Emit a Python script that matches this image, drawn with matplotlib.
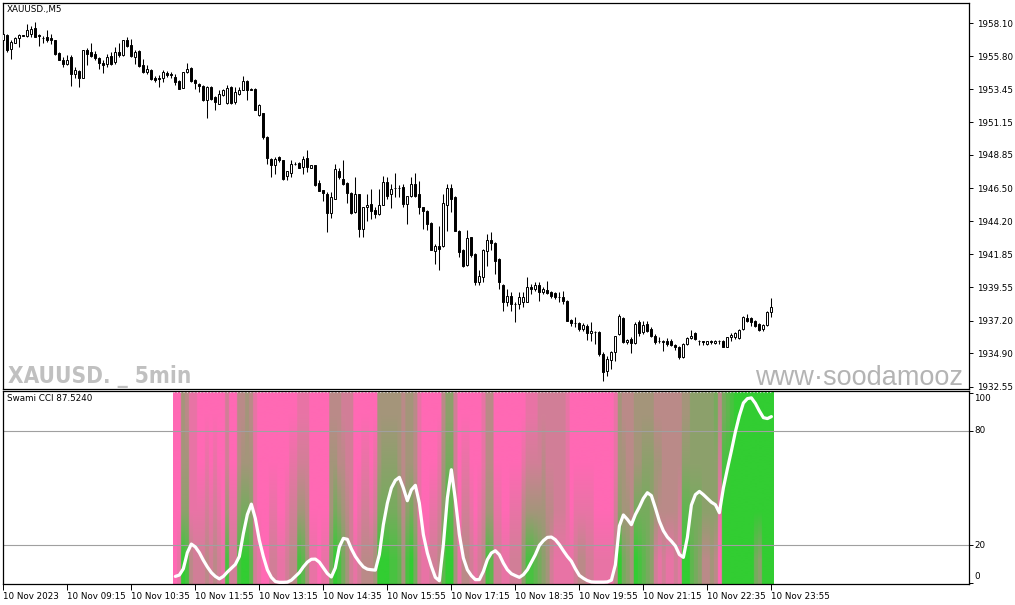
import numpy as np
import matplotlib
matplotlib.use("Agg")
import matplotlib.pyplot as plt
from matplotlib.colors import LinearSegmentedColormap
from matplotlib import font_manager
from matplotlib.font_manager import FontProperties

# ---------------- data ----------------
opens = [1956.95,1957.26,1956.32,1956.72,1957.07,1957.26,1957.19,1957.37,1957.80,1957.30,
         1957.09,1957.14,1957.09,1956.90,1956.00,1955.50,1955.26,1955.73,1954.56,1954.75,
         1954.28,1956.25,1956.08,1955.92,1955.69,1955.31,1955.26,1955.78,1955.38,1956.08,
         1955.90,1956.95,1956.55,1955.73,1956.15,1955.15,1954.68,1954.84,1954.28,1954.23,
         1954.28,1954.61,1954.52,1954.32,1954.04,1953.57,1954.68,1954.93,1954.09,1953.86,
         1953.67,1952.73,1953.62,1952.92,1952.45,1953.03,1952.50,1953.62,1952.57,1953.15,
         1953.43,1954.02,1953.50,1953.50,1951.63,1951.77,1950.08,1948.58,1948.15,1948.69,
         1948.46,1947.36,1947.57,1948.24,1948.27,1947.99,1948.60,1947.94,1948.11,1946.86,
         1946.35,1946.07,1944.75,1945.76,1947.75,1947.17,1946.86,1946.16,1944.82,1946.07,
         1943.65,1945.17,1945.41,1944.99,1944.66,1945.36,1946.93,1946.11,1946.55,1946.53,
         1946.58,1945.41,1945.93,1946.82,1946.07,1945.17,1944.89,1944.05,1942.08,1942.41,
         1942.41,1945.36,1946.54,1945.88,1943.53,1942.17,1941.14,1943.06,1941.89,1939.90,
         1940.25,1942.08,1942.88,1942.69,1941.54,1939.73,1938.49,1938.96,1938.39,1938.37,
         1938.49,1938.49,1939.59,1939.43,1939.73,1939.19,1939.36,1939.19,1939.12,1938.85,
         1938.84,1938.60,1937.24,1937.02,1937.01,1936.61,1936.85,1936.31,1936.39,1936.38,
         1934.85,1933.68,1934.43,1934.97,1936.26,1937.39,1935.67,1935.91,1935.60,1937.08,
         1936.38,1936.96,1936.61,1936.14,1935.75,1935.67,1935.79,1935.79,1935.51,1935.37,
         1934.62,1935.56,1935.98,1936.31,1935.75,1935.73,1935.56,1935.74,1935.60,1935.75,
         1935.79,1935.37,1936.02,1936.07,1935.98,1936.61,1937.39,1937.39,1937.20,1936.96,
         1936.61,1936.92,1937.78]
highs = [1957.42,1957.37,1956.90,1957.14,1957.37,1957.30,1958.03,1957.89,1958.17,1957.37,
         1957.19,1957.66,1957.37,1956.95,1956.08,1955.73,1955.85,1955.85,1955.03,1954.79,
         1956.25,1956.36,1956.72,1956.15,1955.73,1955.50,1955.97,1956.08,1956.44,1956.72,
         1956.95,1957.14,1956.97,1956.20,1956.25,1955.62,1955.15,1954.91,1954.37,1954.44,
         1954.79,1954.75,1954.68,1954.51,1954.09,1954.70,1955.31,1955.00,1954.18,1953.90,
         1953.74,1953.67,1953.67,1952.96,1953.39,1953.50,1953.74,1953.67,1953.62,1953.62,
         1954.37,1954.09,1953.52,1953.55,1952.40,1951.80,1950.15,1948.60,1948.69,1948.74,
         1948.50,1947.75,1948.51,1948.34,1948.34,1948.74,1949.16,1948.15,1948.15,1947.10,
         1946.40,1946.23,1946.23,1948.22,1947.94,1948.51,1946.93,1946.23,1947.29,1946.11,
         1945.22,1946.07,1946.46,1945.17,1946.46,1947.40,1947.29,1946.82,1947.57,1946.70,
         1946.82,1945.99,1947.29,1947.57,1947.00,1945.22,1944.99,1944.10,1942.59,1943.88,
         1946.07,1946.82,1946.82,1945.95,1943.55,1942.20,1943.58,1943.11,1941.95,1940.76,
         1942.20,1943.30,1943.42,1942.75,1941.60,1939.78,1939.43,1939.19,1938.49,1939.19,
         1939.19,1940.29,1939.78,1939.90,1939.90,1939.54,1939.97,1939.26,1939.19,1939.19,
         1939.31,1938.65,1937.31,1937.43,1937.08,1937.01,1936.96,1937.08,1936.45,1936.49,
         1934.97,1934.73,1935.09,1936.14,1937.67,1937.48,1935.91,1936.07,1937.08,1937.24,
         1937.20,1937.20,1936.73,1936.26,1936.07,1935.84,1935.98,1935.91,1935.56,1935.44,
         1935.60,1936.07,1936.54,1936.38,1935.84,1935.79,1935.79,1935.84,1935.84,1935.84,
         1935.84,1936.07,1936.31,1936.38,1936.61,1937.55,1937.67,1937.48,1937.24,1937.01,
         1936.96,1937.85,1938.79]
lows =  [1956.95,1956.08,1955.62,1956.72,1956.44,1957.19,1957.14,1957.14,1957.14,1956.48,
         1956.72,1956.79,1956.67,1955.90,1955.50,1955.03,1955.15,1953.67,1954.28,1953.62,
         1954.28,1955.15,1955.73,1955.50,1954.91,1954.61,1955.03,1955.15,1955.26,1955.73,
         1955.78,1956.44,1955.73,1955.26,1955.03,1954.61,1954.56,1954.15,1953.97,1953.62,
         1953.97,1954.32,1954.28,1953.74,1953.45,1953.55,1954.61,1953.97,1953.50,1953.27,
         1952.65,1951.46,1952.68,1951.98,1952.40,1952.96,1952.45,1952.45,1952.45,1953.03,
         1953.39,1952.73,1953.40,1951.98,1951.55,1950.00,1948.22,1947.29,1947.52,1948.35,
         1947.10,1947.10,1947.33,1948.11,1947.94,1947.52,1947.64,1947.90,1946.65,1946.28,
         1945.60,1943.42,1944.42,1945.76,1947.17,1946.70,1945.46,1944.71,1944.75,1943.11,
         1943.06,1944.19,1944.35,1944.42,1944.59,1945.30,1945.76,1945.13,1945.88,1945.88,
         1945.17,1944.00,1945.88,1945.88,1944.71,1943.65,1943.58,1942.15,1941.19,1940.76,
         1942.36,1943.53,1944.82,1943.50,1941.70,1941.00,1941.07,1941.66,1939.73,1939.73,
         1939.90,1941.07,1942.13,1940.48,1939.43,1937.90,1938.25,1937.90,1937.08,1938.02,
         1938.14,1938.49,1939.07,1939.31,1938.60,1939.07,1939.07,1938.79,1938.72,1938.49,
         1938.37,1937.15,1936.85,1936.73,1936.49,1936.49,1935.84,1935.79,1935.56,1934.73,
         1932.98,1933.33,1933.80,1934.38,1936.21,1935.60,1935.56,1934.90,1935.56,1936.14,
         1936.26,1936.38,1936.02,1935.56,1935.60,1935.04,1935.44,1935.44,1935.13,1934.50,
         1934.57,1935.51,1935.91,1935.84,1935.51,1935.51,1935.51,1935.56,1935.56,1935.56,
         1935.32,1935.32,1935.74,1935.91,1935.91,1936.54,1937.08,1936.85,1936.73,1936.45,
         1936.49,1936.85,1937.43]
closes = [1957.37,1956.25,1956.79,1957.09,1957.30,1957.24,1957.66,1957.73,1957.14,1957.21,
          1957.07,1956.95,1956.90,1955.97,1955.54,1955.22,1955.54,1954.56,1954.79,1954.28,
          1956.25,1955.97,1955.78,1955.69,1955.31,1955.15,1955.73,1955.26,1956.08,1955.85,
          1956.95,1956.48,1955.78,1956.08,1955.08,1954.68,1954.91,1954.18,1954.09,1954.21,
          1954.68,1954.44,1954.50,1953.97,1953.50,1954.68,1954.91,1954.02,1953.90,1953.67,
          1952.68,1953.62,1952.78,1952.57,1953.15,1953.43,1953.57,1952.50,1953.27,1953.39,
          1954.02,1953.39,1953.43,1952.03,1952.33,1950.08,1948.60,1948.11,1948.58,1948.46,
          1947.17,1947.71,1948.18,1948.22,1947.94,1948.58,1947.99,1948.11,1946.70,1946.30,
          1946.16,1944.75,1945.88,1947.87,1947.29,1946.82,1946.16,1944.75,1946.07,1943.65,
          1945.17,1945.36,1944.89,1944.66,1945.36,1946.93,1945.99,1946.46,1946.53,1946.55,
          1945.41,1945.93,1946.82,1945.93,1945.22,1944.89,1944.00,1942.17,1942.41,1942.24,
          1945.46,1946.54,1945.76,1943.53,1942.01,1941.07,1943.02,1941.84,1939.90,1940.30,
          1942.13,1942.88,1942.64,1941.38,1939.90,1938.49,1938.96,1938.37,1938.37,1938.84,
          1938.89,1939.59,1939.43,1939.73,1939.19,1939.43,1939.12,1938.96,1938.84,1938.83,
          1938.56,1937.20,1937.01,1937.00,1936.61,1936.92,1936.31,1936.49,1936.37,1934.85,
          1933.56,1934.50,1934.97,1936.14,1937.55,1935.67,1935.84,1935.60,1936.96,1936.31,
          1936.92,1936.49,1936.14,1935.67,1935.73,1935.79,1935.56,1935.51,1935.32,1934.62,
          1935.56,1935.98,1936.14,1935.91,1935.73,1935.71,1935.74,1935.72,1935.74,1935.73,
          1935.37,1936.02,1936.21,1936.31,1936.54,1937.48,1937.20,1937.08,1936.85,1936.54,
          1936.92,1937.78,1938.18]

price_ticks = [1958.10, 1955.80, 1953.45, 1951.15, 1948.85, 1946.50,
               1944.20, 1941.85, 1939.55, 1937.20, 1934.90, 1932.55]
time_labels = ["10 Nov 2023", "10 Nov 09:15", "10 Nov 10:35", "10 Nov 11:55",
               "10 Nov 13:15", "10 Nov 14:35", "10 Nov 15:55", "10 Nov 17:15",
               "10 Nov 18:35", "10 Nov 19:55", "10 Nov 21:15", "10 Nov 22:35",
               "10 Nov 23:55"]
time_label_bars = [0, 16, 32, 48, 64, 80, 96, 112, 128, 144, 160, 176, 192]

# Swami CCI (bars 43..192)
swami_first_bar = 43
swami_line = [3.5,4.2,7.5,16,20.5,19,16,12,8.5,5.5,
              3.5,2.2,3.5,5.8,7.8,9.8,14,26,36,41.5,
              34,22.5,14,7,3,0.8,0.4,0.4,0.5,1.5,
              3.5,5.5,8.5,11,12.5,12.6,11,8,5,3.2,
              8,19,23.5,23,18,14,11,8.5,7.3,7.0,
              6.8,15,30.7,42,50,54,55.6,50,43.3,49,
              51.4,42,25.5,15.8,8.8,3,1.2,20.2,44.7,59.6,
              43.9,25.5,13.2,7.0,3.9,1.8,1.8,6.1,12.3,15.8,
              17,14.9,10.5,7.0,4.9,3.9,3.0,4.4,7,11,
              14.9,19.8,22.3,24,24.2,22.8,20.2,17,14,11.5,
              7.5,4,2.5,1.3,0.6,0.5,0.5,0.5,0.6,1.5,
              9.6,30,35.8,33.5,30.7,36,40,44.5,47.5,46,
              39.5,32.5,27.5,24.2,22,19.5,15,13.5,24,41,
              46.5,48.2,46.5,44.5,42.5,41.2,37,50,60,69.5,
              79.5,88,94.7,97,97.4,94.5,90.5,87,86.5,87.524]
# green share (0 = all pink, 9 = all green) of the heat map, four period bands
heat_bottom = ("0198322232" "3218228997" "2100221123" "3874110116" "9864212333"
               "4999887489" "6211223799" "4133212387" "2211222588" "7654211111"
               "2332211111" "3965498765" "2121121997" "6533430999" "9999965999")
heat_lower  = ("0055111121" "2104115665" "1000110012" "2443000004" "6543201221"
               "2666665356" "4100112587" "3022101244" "1100111344" "4443322210"
               "1111100000" "2544366665" "4333332776" "6655551999" "9999999999")
heat_upper  = ("0044110010" "1002003444" "1000000001" "1222000004" "4332200110"
               "1455554344" "3100001466" "2011000133" "0000000122" "2232222210"
               "0000000000" "1443344555" "4433333555" "5555552889" "9999999999")
heat_top    = ("0043110000" "0002003343" "1000000000" "0111000003" "3322200000"
               "0444444344" "3100000355" "2000000133" "0000000011" "1222222210"
               "0000000000" "1433344444" "3333333445" "5555563678" "9999999999")

# ---------------- figure ----------------
W, H = 1015, 605
fig = plt.figure(figsize=(W / 100, H / 100), dpi=100)
fig.patch.set_facecolor("white")

def box(l, t, r, b):
    return [l / W, 1 - b / H, (r - l) / W, (b - t) / H]

ax = fig.add_axes(box(3, 3, 969, 389))
ax2 = fig.add_axes(box(3, 391, 969, 584))
XMIN, XMAX = -0.08, 241.4
small = 6.3
txtfont = "DejaVu Sans"

for a in (ax, ax2):
    a.set_xlim(XMIN, XMAX)
    for s in a.spines.values():
        s.set_linewidth(0.9)
        s.set_color("black")
    a.yaxis.tick_right()
    a.tick_params(axis="y", which="both", direction="out", length=3, width=0.7,
                  pad=2.5, labelsize=small, colors="black")

# ---- candles ----
x = np.arange(len(opens))
o = np.array(opens); h = np.array(highs); l = np.array(lows); c = np.array(closes)
up = c >= o
ax.vlines(x, l, h, color="black", linewidth=0.75, zorder=2)
ax.bar(x, np.abs(c - o), bottom=np.minimum(o, c), width=0.5,
       color=np.where(up, "white", "black"), edgecolor="black", linewidth=0.7, zorder=3)
ax.set_ylim(1932.39, 1959.53)
ax.set_yticks(price_ticks)
ax.set_yticklabels([f"{p:.2f}" for p in price_ticks], fontfamily=txtfont)
ax.set_xticks([])

# condensed bold font for the watermark, if one is installed; else Liberation Sans Bold
wm_prop = FontProperties(family=["Liberation Sans", "DejaVu Sans"], weight="bold")
for f in font_manager.fontManager.ttflist:
    nm = f.name.lower()
    cond = ("narrow" in nm or "condensed" in nm or
            str(f.stretch) in ("condensed", "semi-condensed", "extra-condensed"))
    if cond and str(f.weight) in ("bold", "700"):
        wm_prop = FontProperties(fname=f.fname)
        break

wm = ax.text((8 - 3) / 966, (389 - 383) / 386, "XAUUSD. _ 5min", transform=ax.transAxes,
             fontproperties=wm_prop, color="#c0c0c0", ha="left", va="baseline", zorder=1)
wm.set_fontsize(20)
site = ax.text((755 - 3) / 966, (389 - 385) / 386, "www\u00b7soodamooz", transform=ax.transAxes,
               fontfamily="Liberation Sans", fontsize=19.5, color="#b4b4b4",
               ha="left", va="baseline", zorder=1)
fig.canvas.draw()
r = fig.canvas.get_renderer()
bw = wm.get_window_extent(r).width
wm.set_fontsize(20 * 183.0 / bw)
bw = site.get_window_extent(r).width
site.set_fontsize(19.5 * 208.0 / bw)

fig.text(7 / W, 1 - 5 / H, "XAUUSD.,M5", fontfamily=txtfont, fontsize=small,
         color="black", ha="left", va="top")

# ---- Swami CCI panel ----
cols = np.arange(swami_first_bar, swami_first_bar + len(swami_line))
bands = np.array([[int(ch) for ch in b] for b in
                  (heat_bottom, heat_lower, heat_upper, heat_top)]) / 9.0
img = np.repeat(bands, 8, axis=1)
cmap = LinearSegmentedColormap.from_list("swami", ["#ff69b4", "#32cd32"])
ax2.imshow(img, origin="lower", aspect="auto", cmap=cmap, vmin=0, vmax=1,
           interpolation="bilinear",
           extent=(cols[0] - 0.5, cols[-1] + 0.5, -0.5, 101), zorder=1)
ax2.set_xlim(XMIN, XMAX)
ax2.set_ylim(-0.5, 101)
ax2.axhline(80, color="#a0a0a0", linewidth=0.8, zorder=2)
ax2.axhline(20, color="#a0a0a0", linewidth=0.8, zorder=2)
ax2.hlines(100.4, cols[0] - 0.5, cols[-1] + 0.5, colors="white", linewidth=0.8,
           linestyles=(0, (1, 2)), zorder=2)
ax2.plot(cols, swami_line, color="white", linewidth=2.3, solid_joinstyle="round",
         solid_capstyle="round", zorder=3)

ax2.set_yticks([100, 80, 20, 0])
ax2.set_yticklabels([])
for val, pos in [("100", 97.3), ("80", 80), ("20", 20), ("0", 3.2)]:
    ax2.text(1 + 5 / 966, pos, val, transform=ax2.get_yaxis_transform(),
             fontfamily=txtfont, fontsize=small, ha="left", va="center", clip_on=False)

ax2.set_xticks(time_label_bars)
ax2.set_xticklabels(time_labels, fontfamily=txtfont, fontsize=small)
for t in ax2.get_xticklabels():
    t.set_ha("left")
ax2.tick_params(axis="x", direction="out", length=4, width=0.7, pad=1.5)

fig.text(7 / W, 1 - 394 / H, "Swami CCI 87.5240", fontfamily=txtfont, fontsize=small,
         color="black", ha="left", va="top")

fig.savefig("out.png", dpi=100, facecolor="white")
